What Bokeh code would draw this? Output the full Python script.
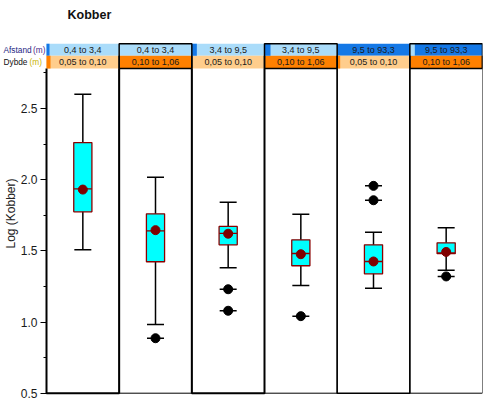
from math import pi
from bokeh.plotting import figure
from bokeh.models import Range1d, FixedTicker, ColumnDataSource
from bokeh.core.properties import value
from bokeh.embed import file_html
from bokeh.resources import INLINE

# ---------------- data ----------------
title = "Kobber"
y_title = "Log (Kobber)"
row_names = ["Afstand", "Dybde"]
unit = "(m)"
afstand = ["0,4 to 3,4", "0,4 to 3,4", "3,4 to 9,5", "3,4 to 9,5", "9,5 to 93,3", "9,5 to 93,3"]
dybde = ["0,05 to 0,10", "0,10 to 1,06", "0,05 to 0,10", "0,10 to 1,06", "0,05 to 0,10", "0,10 to 1,06"]
afstand_colors = ["#aadcfa", "#aadcfa", "#aadcfa", "#aadcfa", "#1478e6", "#1478e6"]
dybde_colors = ["#ffcd8c", "#ff8000", "#ffcd8c", "#ff8000", "#ffcd8c", "#ff8000"]

whisker_low = [1.507, 0.982, 1.381, 1.256, 1.237, 1.364]
q1 = [1.774, 1.423, 1.542, 1.395, 1.338, 1.480]
median = [1.935, 1.640, 1.622, 1.481, 1.425, 1.485]
q3 = [2.260, 1.760, 1.671, 1.577, 1.542, 1.556]
whisker_high = [2.600, 2.017, 1.841, 1.757, 1.631, 1.662]
mean = [1.930, 1.645, 1.620, 1.476, 1.425, 1.492]
outlier_group = [1, 2, 2, 3, 4, 4, 5]
outlier_value = [0.886, 1.230, 1.079, 1.041, 1.956, 1.855, 1.320]

y_ticks = [0.5, 1.0, 1.5, 2.0, 2.5]
y_minor = [0.75, 1.25, 1.75, 2.25, 2.75]
y_labels = ["0.5", "1.0", "1.5", "2.0", "2.5"]
y_min, y_max = 0.5, 2.78

# ---------------- layout ----------------
W, H = 485, 403
LB = 46            # page x of the first panel
RB = 3
N = len(afstand)
ppu = (W - LB - RB) / N          # px per panel
PXU = 142.4                      # px per y unit
FRAME_H = H
BASE_Y = 392.7                   # page y of y_min
y_start = y_min - (FRAME_H - BASE_Y) / PXU
y_end = y_start + FRAME_H / PXU
FONT = "Liberation Sans"


def xd(page_x):
    return (page_x - LB) / ppu


def yd(page_y):
    return y_start + (FRAME_H - page_y) / PXU


xc = [i + 0.5 for i in range(N)]
left = [i for i in range(N)]
right = [i + 1 for i in range(N)]

p = figure(width=W, height=H, output_backend="svg", toolbar_location=None,
           x_range=Range1d(xd(0), N), y_range=Range1d(y_start, y_end),
           x_axis_location=None,
           min_border_left=0, min_border_right=RB, min_border_top=0, min_border_bottom=0)
p.outline_line_color = None
p.grid.visible = False

ax = p.yaxis[0]
ax.fixed_location = 0
ax.ticker = FixedTicker(ticks=y_ticks, minor_ticks=y_minor)
ax.major_label_overrides = dict(zip(y_ticks, y_labels))
ax.major_label_text_font = FONT
ax.major_label_text_font_size = "12px"
ax.major_label_text_color = "#1a1a1a"
ax.major_label_standoff = 3
ax.major_tick_out = 6
ax.major_tick_in = 0
ax.minor_tick_out = 3
ax.minor_tick_in = 0
ax.axis_line_color = None
ax.major_tick_line_color = "black"
ax.minor_tick_line_color = "black"

p.text(x=[xd(10)], y=[yd(213)], text=[y_title], angle=pi / 2, text_align="center",
       text_baseline="middle", text_font=value(FONT), text_font_size="12px",
       text_color="#222222")

# ---------------- header ----------------
a_top, a_bot = yd(43.3), yd(55.2)
d_top, d_bot = a_bot, y_max
a_mid, d_mid = (a_top + a_bot) / 2, (d_top + d_bot) / 2
p.quad(left=left, right=right, bottom=a_bot, top=a_top, fill_color=afstand_colors, line_color=None)
p.quad(left=left, right=right, bottom=d_bot, top=d_top, fill_color=dybde_colors, line_color=None)

strips_a = [(0, 3, "#1478e6"), (2, 5, "#1478e6"), (3, 6, "#1478e6"), (5, 5, "#aadcfa")]
for idx, wpx, col in strips_a:
    p.quad(left=idx, right=idx + wpx / ppu, bottom=a_bot, top=a_top, fill_color=col, line_color=None)
strips_d = [(0, 4, "#ff8000"), (4, 3, "#ff8000")]
for idx, wpx, col in strips_d:
    p.quad(left=idx, right=idx + wpx / ppu, bottom=d_bot, top=d_top, fill_color=col, line_color=None)

sel = [i for i in range(N) if i % 2 == 1]
p.quad(left=[left[i] for i in sel], right=[right[i] for i in sel], bottom=d_bot, top=a_top,
       fill_color=None, line_color="black", line_width=1.5)

p.text(x=xc, y=a_mid, text=afstand, text_align="center", text_baseline="middle",
       text_font=value(FONT), text_font_size="9px", text_color="#1a1a1a")
p.text(x=xc, y=d_mid, text=dybde, text_align="center", text_baseline="middle",
       text_font=value(FONT), text_font_size="9px", text_color="#1a1a1a")

p.text(x=[xd(3)], y=[a_mid], text=[row_names[0]], text_baseline="middle",
       text_font=value(FONT), text_font_size="8.3px", text_color="#1e1e82")
p.text(x=[xd(45)], y=[a_mid], text=[unit], text_align="right", text_baseline="middle",
       text_font=value(FONT), text_font_size="8.3px", text_color="#4a2a88")
p.text(x=[xd(3)], y=[d_mid], text=[row_names[1]], text_baseline="middle",
       text_font=value(FONT), text_font_size="8.3px", text_color="#111111")
p.text(x=[xd(29)], y=[d_mid], text=[unit], text_baseline="middle",
       text_font=value(FONT), text_font_size="8.3px", text_color="#c8b400")

p.text(x=[xd(67)], y=[yd(14)], text=[title], text_align="left", text_baseline="middle",
       text_font=value(FONT), text_font_size="12.5px", text_font_style="bold",
       text_color="#111111")

# ---------------- panels ----------------
widths = [2, 1, 2, 1, 1.5, 1]
for i in range(N):
    p.line(x=[left[i], left[i], right[i], right[i]], y=[y_max, y_min, y_min, y_max],
           line_color="black", line_width=widths[i])
p.segment(x0=right, x1=right, y0=d_bot, y1=a_bot, line_color="black", line_width=1.5)

# ---------------- boxes ----------------
src = ColumnDataSource(dict(x=xc, low=whisker_low, q1=q1, med=median, q3=q3,
                            high=whisker_high, mean=mean))
p.segment(x0="x", x1="x", y0="low", y1="high", source=src, line_color="black", line_width=1.5)
p.scatter(x="x", y="low", source=src, marker="dash", size=17, line_color="black", line_width=1.5)
p.scatter(x="x", y="high", source=src, marker="dash", size=17, line_color="black", line_width=1.5)
p.vbar(x="x", width=0.25, bottom="q1", top="q3", source=src, fill_color="#00ffff",
       line_color="#8b0000", line_width=1.3)
p.scatter(x="x", y="med", source=src, marker="dash", size=18, line_color="#8b0000", line_width=1.3)
p.scatter(x="x", y="mean", source=src, marker="circle", size=9, fill_color="#7f0000",
          line_color="#7f0000")

ox = [xc[g] for g in outlier_group]
p.scatter(x=ox, y=outlier_value, marker="dash", size=17, line_color="black", line_width=1.5)
p.scatter(x=ox, y=outlier_value, marker="circle", size=9, fill_color="black", line_color="black")

open("out.html", "w").write(file_html(p, INLINE))
